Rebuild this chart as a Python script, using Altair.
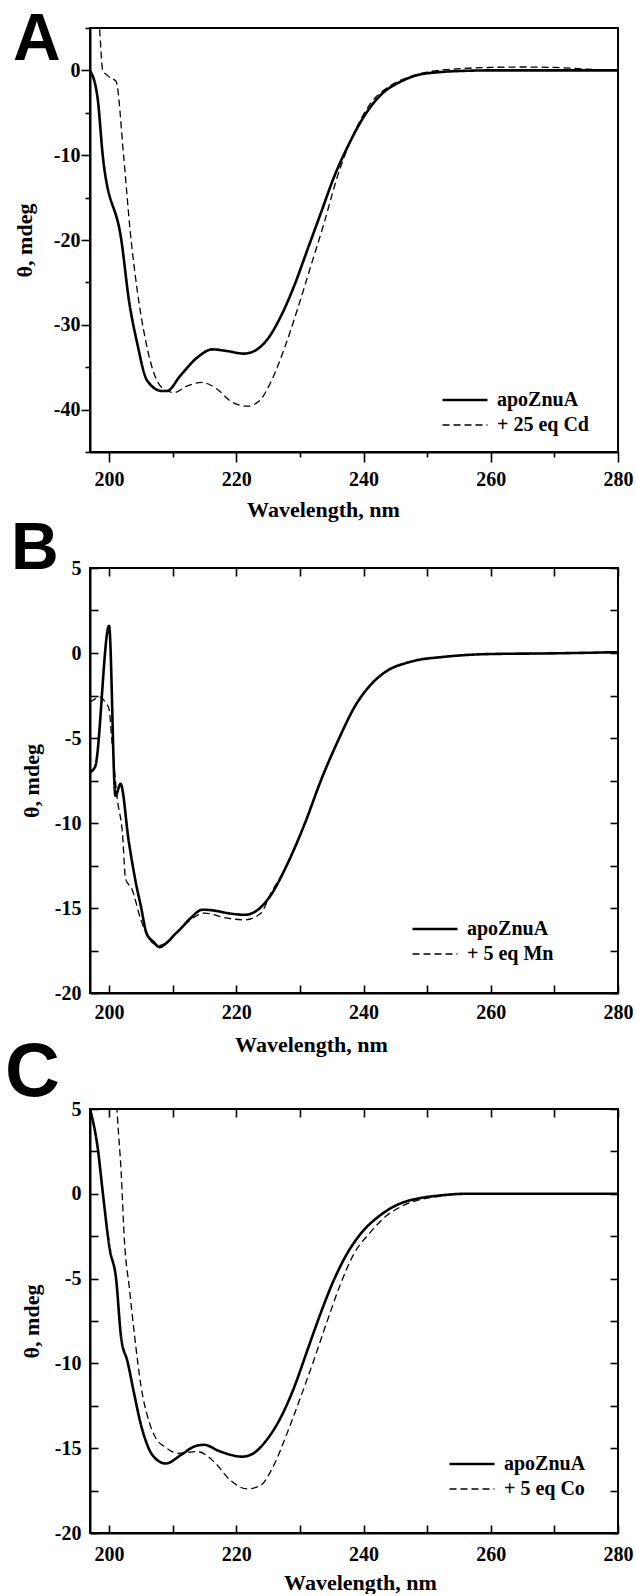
import altair as alt
import pandas as pd

SERIF = "Liberation Serif"
SANS = "Liberation Sans"
SOLID_LABEL = "apoZnuA"

# ---------------- Panel A : apoZnuA vs + 25 eq Cd ----------------
A_DASH_LABEL = "+ 25 eq Cd"
A_SOLID_WL = [197.0, 198.2, 199.0, 202.0, 203.1, 204.4, 206.0, 208.3, 209.1, 211.2,
              213.8, 216.2, 218.6, 221.2, 222.8, 224.9, 227.0, 229.1, 231.2, 233.3,
              235.4, 237.5, 240.1, 242.7, 245.9, 248.5, 252.0, 256.0, 260.0, 270.0, 280.0]
A_SOLID_TH = [0.0, -3.3, -10.0, -20.4, -27.0, -32.1, -36.6, -37.8, -37.8, -36.0,
              -33.9, -32.9, -33.1, -33.4, -33.1, -31.7, -29.0, -25.4, -21.1, -16.8,
              -12.5, -9.0, -5.4, -2.9, -1.3, -0.55, -0.2, -0.05, 0.0, 0.0, 0.0]
A_DASH_WL = [198.0, 198.5, 199.0, 199.6, 200.3, 201.1, 202.3, 203.3, 204.4, 205.7,
             207.0, 208.3, 210.2, 212.3, 214.6, 217.0, 219.1, 221.7, 223.6, 225.4,
             227.5, 229.6, 231.7, 233.8, 235.9, 238.5, 241.1, 244.0, 247.0, 250.0,
             255.0, 260.0, 265.0, 270.0, 275.0, 280.0]
A_DASH_TH = [10.0, 5.0, 0.0, -0.5, -0.9, -1.3, -10.2, -18.8, -25.8, -31.7,
             -35.6, -37.4, -38.0, -37.2, -36.8, -37.6, -39.0, -39.6, -39.0, -36.8,
             -32.9, -28.2, -23.1, -18.0, -12.5, -7.4, -3.9, -1.9, -0.8, -0.2,
             0.2, 0.35, 0.4, 0.35, 0.15, 0.0]

# ---------------- Panel B : apoZnuA vs + 5 eq Mn ----------------
B_DASH_LABEL = "+ 5 eq Mn"
B_SOLID_WL = [197.0, 197.8, 200.0, 201.0, 201.8, 203.1, 204.2, 205.0, 205.9, 207.0,
              207.9, 209.2, 210.2, 211.3, 212.8, 214.7, 216.5, 218.6, 221.3, 223.4,
              225.5, 228.1, 230.8, 233.4, 236.0, 238.7, 241.3, 243.9, 246.6, 248.7,
              252.0, 256.0, 260.0, 270.0, 280.0]
B_SOLID_TH = [-7.0, -6.7, 1.6, -8.4, -7.7, -11.1, -13.5, -14.9, -16.5, -17.0,
              -17.3, -17.0, -16.6, -16.2, -15.6, -15.1, -15.15, -15.3, -15.4, -15.1,
              -14.2, -12.35, -10.0, -7.4, -5.15, -3.1, -1.8, -1.0, -0.6, -0.4,
              -0.25, -0.12, -0.06, -0.02, 0.05]
B_DASH_WL = [197.0, 198.6, 199.4, 200.0, 200.4, 201.3, 202.1, 202.6, 203.6, 205.0,
             206.0, 207.0, 208.0, 209.2, 211.3, 212.8, 215.0, 218.6, 221.3, 223.9,
             225.2, 228.1, 230.8, 233.4, 236.0, 238.7, 241.3, 243.9, 246.6, 248.7,
             252.0, 256.0, 260.0, 270.0, 280.0]
B_DASH_TH = [-2.9, -2.6, -2.9, -3.3, -5.0, -8.6, -10.6, -13.3, -13.9, -15.7,
             -16.6, -17.1, -17.2, -17.0, -16.2, -15.7, -15.3, -15.6, -15.7, -15.3,
             -14.3, -12.4, -10.0, -7.4, -5.15, -3.1, -1.8, -1.0, -0.6, -0.4,
             -0.25, -0.12, -0.06, -0.02, 0.05]

# ---------------- Panel C : apoZnuA vs + 5 eq Co ----------------
C_DASH_LABEL = "+ 5 eq Co"
C_SOLID_WL = [197.0, 198.25, 199.0, 200.1, 201.1, 201.9, 202.9, 204.0, 205.0, 206.0,
              206.8, 208.9, 211.3, 213.4, 214.9, 217.5, 220.9, 222.7, 224.8, 226.9,
              229.0, 231.1, 233.1, 235.2, 237.3, 239.9, 242.5, 245.6, 248.3, 252.0,
              256.0, 280.0]
C_SOLID_TH = [5.0, 2.6, 0.1, -3.25, -5.0, -8.5, -9.9, -11.9, -13.6, -14.8,
              -15.4, -15.9, -15.4, -14.9, -14.8, -15.2, -15.5, -15.3, -14.5, -13.25,
              -11.5, -9.3, -7.2, -5.2, -3.6, -2.2, -1.3, -0.6, -0.3, -0.1,
              0.0, 0.0]
C_DASH_WL = [201.0, 201.3, 201.9, 202.4, 203.2, 204.0, 205.0, 206.3, 207.5, 208.7,
             210.75, 213.9, 216.5, 219.1, 221.7, 223.8, 225.9, 227.9, 230.0, 232.1,
             234.2, 236.3, 238.4, 241.0, 243.6, 246.2, 248.3, 252.0, 256.0, 280.0]
C_DASH_TH = [6.5, 4.6, 1.25, -2.7, -5.6, -8.35, -11.3, -13.45, -14.5, -14.9,
             -15.3, -15.2, -15.8, -16.9, -17.4, -17.2, -16.0, -14.2, -12.1, -9.9,
             -7.6, -5.4, -3.6, -2.3, -1.3, -0.7, -0.4, -0.15, 0.0, 0.0]

# tick positions
X_MAJOR = [200, 220, 240, 260, 280]
X_MINOR = [210, 230, 250, 270]
X_ALL = [200, 210, 220, 230, 240, 250, 260, 270, 280]
A_Y_MAJOR = [-40, -30, -20, -10, 0]
A_Y_MINOR = [-45, -35, -25, -15, -5, 5]
BC_Y_ALL = [-20, -17.5, -15, -12.5, -10, -7.5, -5, -2.5, 0, 2.5, 5]

NUM = "(datum.value < 0 ? '-' + abs(datum.value) : '' + datum.value)"

STYLE = dict(domainColor="black", domainWidth=2, tickColor="black", tickWidth=1.6,
             labelFont=SERIF, labelFontWeight="bold", labelFontSize=20, labelColor="black",
             titleFont=SERIF, titleFontWeight="bold", titleFontSize=22, titleColor="black",
             grid=False, labelOverlap=False, labelFlush=False)
GHOST = dict(labels=False, domain=False, title=None, grid=False, tickColor="black", tickWidth=1.6)


def build_df(sw, st, dw, dt, dlabel):
    return pd.DataFrame({
        "wl": list(sw) + list(dw),
        "theta": list(st) + list(dt),
        "series": [SOLID_LABEL] * len(sw) + [dlabel] * len(dw),
    })


def panel(df, dlabel, ydom, h, outward, letter, letter_size, letter_dx, letter_offset,
          leg_x, leg_y, leg_rowpad, ytitle_x, xtitle_x, xtitle_y, xlab_pad, ylab_pad):
    xscale = alt.Scale(domain=[197, 280], nice=False, zero=False)
    yscale = alt.Scale(domain=ydom, nice=False, zero=False)
    if outward:
        x_main = alt.Axis(orient="bottom", values=X_MAJOR, tickSize=10, labelPadding=xlab_pad,
                          labelExpr=NUM, title="Wavelength, nm", titleX=xtitle_x, titleY=xtitle_y,
                          titleAlign="center", titleBaseline="alphabetic", **STYLE)
        y_main = alt.Axis(orient="left", values=A_Y_MAJOR, tickSize=9, labelPadding=ylab_pad,
                          labelExpr=NUM, title="θ, mdeg", titleX=ytitle_x,
                          titleBaseline="alphabetic", **STYLE)
        x_ghost = alt.Axis(orient="bottom", values=X_MINOR, tickSize=5, **GHOST)
        y_ghost = alt.Axis(orient="left", values=A_Y_MINOR, tickSize=5, **GHOST)
    else:
        inward = {"expr": "-8"}
        x_main = alt.Axis(orient="bottom", values=X_ALL, tickSize=inward, labelPadding=xlab_pad,
                          labelExpr="datum.value % 20 === 0 ? " + NUM + " : ''",
                          title="Wavelength, nm", titleX=xtitle_x, titleY=xtitle_y,
                          titleAlign="center", titleBaseline="alphabetic", **STYLE)
        y_main = alt.Axis(orient="left", values=BC_Y_ALL, tickSize=inward, labelPadding=ylab_pad,
                          labelExpr="datum.value % 5 === 0 ? " + NUM + " : ''",
                          title="θ, mdeg", titleX=ytitle_x, titleBaseline="alphabetic", **STYLE)
        x_ghost = alt.Axis(orient="top", values=X_ALL, tickSize=inward, **GHOST)
        y_ghost = alt.Axis(orient="right", values=BC_Y_ALL, tickSize=inward, **GHOST)

    leg = alt.Legend(title=None, orient="none", legendX=leg_x, legendY=leg_y,
                     symbolType="M-2.5,0L2.5,0", symbolSize=324, symbolStrokeColor="black",
                     symbolFillColor="transparent", labelFont=SERIF, labelFontWeight="bold",
                     labelFontSize=20, labelColor="black", labelOffset=21.5,
                     rowPadding=leg_rowpad, padding=0, labelLimit=0)
    dom = [SOLID_LABEL, dlabel]
    lines = alt.Chart(df).mark_line(clip=True, interpolate="monotone", color="black").encode(
        x=alt.X("wl:Q", scale=xscale, axis=x_main),
        y=alt.Y("theta:Q", scale=yscale, axis=y_main),
        strokeDash=alt.StrokeDash("series:N", scale=alt.Scale(domain=dom, range=[[1, 0], [7, 4]]), legend=leg),
        strokeWidth=alt.StrokeWidth("series:N", scale=alt.Scale(domain=dom, range=[2.6, 1.3]), legend=leg),
    )
    ghost = alt.Chart(df).mark_line(clip=True, opacity=0).encode(
        x=alt.X("wl:Q", scale=xscale, axis=x_ghost),
        y=alt.Y("theta:Q", scale=yscale, axis=y_ghost),
        detail="series:N",
    )
    title = alt.TitleParams(text=letter, anchor="start", frame="group", orient="top", font=SANS,
                            fontSize=letter_size, fontWeight="bold", color="black",
                            baseline="alphabetic", dx=letter_dx, offset=letter_offset)
    return alt.layer(lines, ghost).resolve_axis(x="independent", y="independent").properties(
        width=528, height=h, title=title)


dfA = build_df(A_SOLID_WL, A_SOLID_TH, A_DASH_WL, A_DASH_TH, A_DASH_LABEL)
dfB = build_df(B_SOLID_WL, B_SOLID_TH, B_DASH_WL, B_DASH_TH, B_DASH_LABEL)
dfC = build_df(C_SOLID_WL, C_SOLID_TH, C_DASH_WL, C_DASH_TH, C_DASH_LABEL)

pA = panel(dfA, A_DASH_LABEL, [-45, 5], 424, True, "A", 66, -77, -99,
           364.5, 361.5, 4.5, -59, 233, 64, 7, 1)
pB = panel(dfB, B_DASH_LABEL, [-20, 5], 425, False, "B", 66, -79, -77,
           334.5, 350.5, 4.5, -52, 221, 58, 17, 17)
pC = panel(dfC, C_DASH_LABEL, [-20, 5], 424, False, "C", 76, -85, -73,
           371.5, 344.5, 4.5, -52, 270, 56, 19, 17)

chart = alt.vconcat(pA, pB, pC, spacing=116, bounds="flush").resolve_scale(
    strokeDash="independent", strokeWidth="independent"
).resolve_legend(
    strokeDash="independent", strokeWidth="independent"
).configure_view(
    stroke="black", strokeWidth=2
).properties(
    padding={"left": 4, "top": 6, "right": 0, "bottom": 0}, background="white"
)

chart.save("out.html", embed_options={"renderer": "svg", "actions": False})
